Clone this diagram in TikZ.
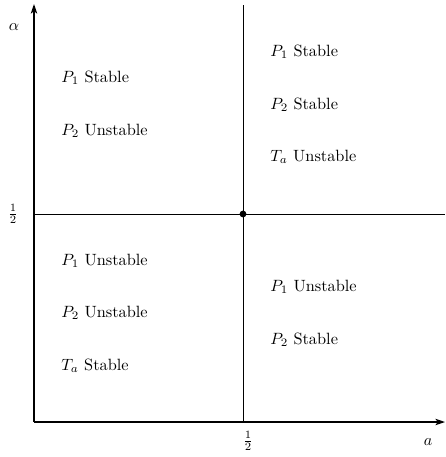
\documentclass[tikz,border=0pt]{standalone}
\usetikzlibrary{arrows.meta}
\begin{document}
\begin{tikzpicture}[x=0.625pt,y=-0.625pt,
  axis/.style={line width=0.7pt,-{Stealth[length=6pt,width=4pt,inset=1.5pt]}},
  divider/.style={line width=0.5pt},
  lbl/.style={anchor=west,inner sep=0pt,scale=1.02},
  tick/.style={inner sep=0pt}]
\useasboundingbox (0,0) rectangle (445,457);
\coordinate (O) at (34,422);
\coordinate (ytop) at (34,4);
\coordinate (xend) at (445,422);
\coordinate (vtop) at (243,5);
\coordinate (vbot) at (243,422);
\coordinate (hleft) at (34,214);
\coordinate (hright) at (445,214);
\draw[divider] (vtop) -- (vbot);
\draw[divider] (hleft) -- (hright);
\draw[axis] (O) -- (ytop);
\draw[axis] (O) -- (xend);
\fill (243,214) circle (3.4);
\node[tick] (alpha) at (14,27) {$\alpha$};
\node[tick] (yhalf) at (13,214) {$\frac{1}{2}$};
\node[tick] (xhalf) at (248,441) {$\frac{1}{2}$};
\node[tick] (alab) at (428,442) {$a$};
% upper left
\node[lbl] (ul1) at (61,78) {$P_1$ Stable};
\node[lbl] (ul2) at (61,131) {$P_2$ Unstable};
% upper right
\node[lbl] (ur1) at (270,52) {$P_1$ Stable};
\node[lbl] (ur2) at (270,105) {$P_2$ Stable};
\node[lbl] (ur3) at (270,157) {$T_a$ Unstable};
% lower left
\node[lbl] (ll1) at (61,261) {$P_1$ Unstable};
\node[lbl] (ll2) at (61,313) {$P_2$ Unstable};
\node[lbl] (ll3) at (61,366) {$T_a$ Stable};
% lower right
\node[lbl] (lr1) at (270,287) {$P_1$ Unstable};
\node[lbl] (lr2) at (270,340) {$P_2$ Stable};
\end{tikzpicture}
\end{document}
